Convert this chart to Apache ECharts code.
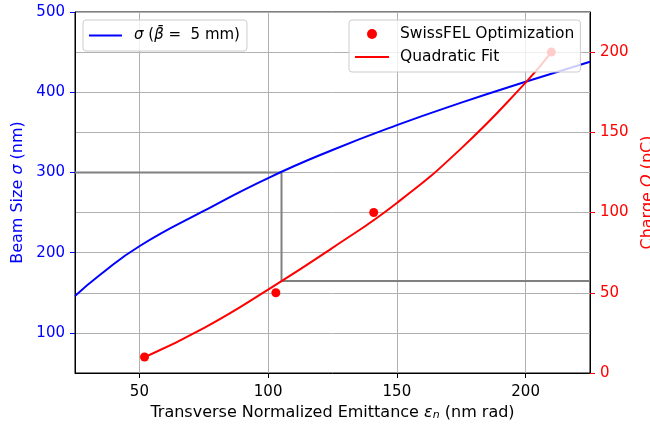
<!DOCTYPE html>
<html>
<head>
<meta charset="utf-8">
<script src="https://cdn.jsdelivr.net/npm/echarts@6/dist/echarts.min.js"></script>
<style>
  html, body { margin: 0; padding: 0; background: #fff; }
  #chart { width: 650px; height: 427px; }
</style>
</head>
<body>
<div id="chart"></div>
<script>
  // beam size curve (left axis)
  const sigmaX = [25, 35, 50, 75, 100, 125, 150, 175, 200, 225]
  const sigmaY = [146, 173, 208, 252, 293, 328, 359, 387, 413, 438]

  // SwissFEL optimisation points (right axis)
  const optX = [52, 103, 141, 210]
  const optQ = [10, 50, 100, 200]

  // quadratic fit (right axis)
  const fitX = [52, 75, 100, 125, 150, 175, 200, 210]
  const fitQ = [9.8, 28, 52, 78, 106, 140, 181, 200]

  // grey guide: sigma = 300 nm -> emittance -> charge
  const guideX = [25, 105.2, 105.2, 225]
  const guideSigma = [300, 300, 164.6, 164.6]

  const font = 'DejaVu Sans'
  const fs = 15      // tick labels, left legend
  const fsName = 16  // axis titles
  const blue = '#0000ff'
  const red = '#ff0000'
  const gridColor = '#b0b0b0'

  const zip = (a, b) => a.map((v, i) => [v, b[i]])

  const chart = echarts.init(document.getElementById('chart'))

  const option = {
    animation: false,
    textStyle: { fontFamily: font },
    grid: {
      left: 75, right: 60, top: 12, bottom: 54,
      outerBoundsMode: 'none',
      containLabel: false,
      show: true, borderColor: '#000', borderWidth: 1
    },
    legend: [
      {
        data: [{ name: 'sigma', itemStyle: { opacity: 0 } }],
        selectedMode: false,
        orient: 'vertical',
        left: 83, top: 20,
        padding: [8, 7, 8, 5],
        itemWidth: 33, itemHeight: 10,
        backgroundColor: 'rgba(255,255,255,0.8)',
        borderColor: '#cccccc', borderWidth: 1, borderRadius: 3,
        formatter: () => '{a|σ} ({i|β̄} =  5 mm)',
        textStyle: {
          fontFamily: font, fontSize: fs, color: '#000',
          rich: {
            a: { fontFamily: font, fontSize: fs, color: '#000', fontStyle: 'italic', padding: [0, 0, 0, 7] },
            i: { fontFamily: font, fontSize: fs, color: '#000', fontStyle: 'italic' }
          }
        }
      },
      {
        data: ['SwissFEL Optimization', { name: 'Quadratic Fit', itemStyle: { opacity: 0 } }],
        selectedMode: false,
        orient: 'vertical',
        left: 349, top: 20,
        padding: [6, 6, 7, 5],
        itemGap: 7,
        itemWidth: 34, itemHeight: 10,
        backgroundColor: 'rgba(255,255,255,0.8)',
        borderColor: '#cccccc', borderWidth: 1, borderRadius: 3,
        formatter: name => '{t|' + name + '}',
        textStyle: {
          fontFamily: font, fontSize: 15.5, color: '#000',
          rich: {
            t: { fontFamily: font, fontSize: 15.5, color: '#000', padding: [0, 0, 0, 6] }
          }
        }
      }
    ],
    xAxis: {
      type: 'value',
      min: 25, max: 225,
      splitNumber: 4,
      name: 'Transverse Normalized Emittance {i|ε}{s|n} (nm rad)',
      nameLocation: 'middle',
      nameGap: 32,
      nameTextStyle: {
        fontFamily: font, fontSize: fsName, color: '#000',
        rich: {
          i: { fontFamily: font, fontSize: fsName, color: '#000', fontStyle: 'italic' },
          s: { fontFamily: font, fontSize: 11, color: '#000', fontStyle: 'italic', verticalAlign: 'bottom' }
        }
      },
      axisLine: { onZero: false, lineStyle: { color: '#000' } },
      axisTick: { length: 5, lineStyle: { color: '#000' } },
      axisLabel: {
        showMinLabel: false, showMaxLabel: false,
        fontFamily: font, fontSize: fs, color: '#000', margin: 12
      },
      splitLine: { lineStyle: { color: gridColor, width: 1 } }
    },
    yAxis: [
      {
        type: 'value',
        min: 50, max: 500,
        splitNumber: 5,
        position: 'left',
        name: 'Beam Size {i|σ} (nm)',
        nameLocation: 'middle',
        nameGap: 48,
        nameTextStyle: {
          fontFamily: font, fontSize: fsName, color: blue,
          rich: { i: { fontFamily: font, fontSize: fsName, color: blue, fontStyle: 'italic' } }
        },
        axisLine: { show: true, onZero: false, lineStyle: { color: '#000' } },
        axisTick: { show: true, length: 5, lineStyle: { color: blue } },
        axisLabel: {
          showMinLabel: false,
          fontFamily: font, fontSize: fs, color: blue, margin: 10
        },
        splitLine: { lineStyle: { color: gridColor, width: 1 } }
      },
      {
        type: 'value',
        min: 0, max: 225,
        interval: 50,
        position: 'right',
        name: 'Charge {i|Q} (pC)',
        nameLocation: 'middle',
        nameGap: 46,
        nameTextStyle: {
          fontFamily: font, fontSize: fsName, color: red,
          rich: { i: { fontFamily: font, fontSize: fsName, color: red, fontStyle: 'italic' } }
        },
        axisLine: { show: true, onZero: false, lineStyle: { color: '#000' } },
        axisTick: { show: true, length: 5, lineStyle: { color: red } },
        axisLabel: {
          showMaxLabel: false,
          fontFamily: font, fontSize: fs, color: red, margin: 10
        },
        splitLine: { show: true, lineStyle: { color: gridColor, width: 1 } }
      }
    ],
    series: [
      {
        name: 'guide',
        type: 'line',
        yAxisIndex: 0,
        data: zip(guideX, guideSigma),
        symbol: 'none',
        silent: true,
        lineStyle: { color: '#808080', width: 2 },
        z: 1
      },
      {
        name: 'sigma',
        type: 'line',
        yAxisIndex: 0,
        data: zip(sigmaX, sigmaY),
        smooth: true,
        symbol: 'none',
        itemStyle: { color: blue },
        lineStyle: { color: blue, width: 2 }
      },
      {
        name: 'Quadratic Fit',
        type: 'line',
        yAxisIndex: 1,
        data: zip(fitX, fitQ),
        smooth: true,
        symbol: 'none',
        itemStyle: { color: red },
        lineStyle: { color: red, width: 2 }
      },
      {
        name: 'SwissFEL Optimization',
        type: 'scatter',
        yAxisIndex: 1,
        data: zip(optX, optQ),
        symbol: 'circle',
        symbolSize: 9,
        itemStyle: { color: red, opacity: 1 }
      }
    ]
  }

  chart.setOption(option)
</script>
</body>
</html>
